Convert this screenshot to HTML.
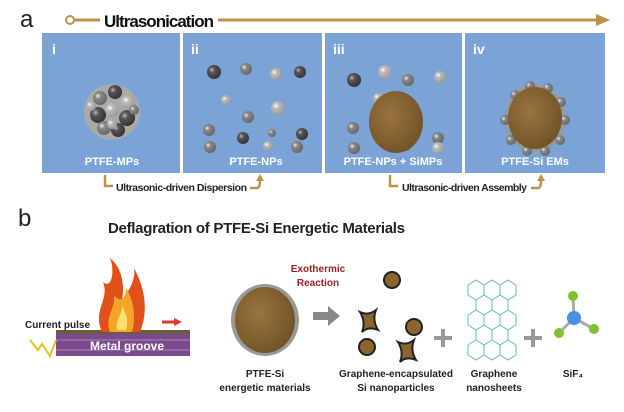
<!DOCTYPE html>
<html><head><meta charset="utf-8"><style>
body{margin:0;width:624px;height:407px;background:#fff;overflow:hidden;font-family:"Liberation Sans",sans-serif}
svg text{font-family:"Liberation Sans",sans-serif}
</style></head><body>
<svg width="624" height="407" viewBox="0 0 624 407">
<defs>
<radialGradient id="dk" cx="35%" cy="35%" r="70%"><stop offset="0" stop-color="#bbb"/><stop offset="0.3" stop-color="#555"/><stop offset="1" stop-color="#333"/></radialGradient>
<radialGradient id="md" cx="35%" cy="35%" r="70%"><stop offset="0" stop-color="#eee"/><stop offset="0.3" stop-color="#888"/><stop offset="1" stop-color="#666"/></radialGradient>
<radialGradient id="lt" cx="35%" cy="35%" r="70%"><stop offset="0" stop-color="#fff"/><stop offset="0.3" stop-color="#bbb"/><stop offset="1" stop-color="#999"/></radialGradient>
<radialGradient id="br" cx="40%" cy="40%" r="70%"><stop offset="0" stop-color="#9a7440"/><stop offset="1" stop-color="#6e5024"/></radialGradient>
</defs>
<text x="20" y="27" font-size="24" fill="#222">a</text>
<line x1="66" y1="20" x2="600" y2="20" stroke="#b8944a" stroke-width="3"/>
<polygon points="596,14 610,20 596,26" fill="#b8944a"/>
<circle cx="70" cy="20" r="4" fill="#fff" stroke="#b8944a" stroke-width="2"/>
<rect x="100" y="10" width="118" height="20" fill="#fff"/>
<text x="104" y="27" font-size="17" font-weight="bold" fill="#111" textLength="110">Ultrasonication</text>
<g fill="#7ba3d6">
<rect x="42" y="33" width="138" height="140"/><rect x="183" y="33" width="139" height="140"/>
<rect x="325" y="33" width="137" height="140"/><rect x="465" y="33" width="140" height="140"/>
</g>
<g fill="#fff" font-weight="bold" font-size="14"><text x="52" y="54">i</text><text x="191" y="54">ii</text><text x="333" y="54">iii</text><text x="473" y="54">iv</text></g>
<g fill="#fff" font-weight="bold" font-size="11" text-anchor="middle">
<text x="112" y="165">PTFE-MPs</text><text x="256" y="165">PTFE-NPs</text><text x="393" y="165">PTFE-NPs + SiMPs</text><text x="535" y="165">PTFE-Si EMs</text></g>
<!-- i cluster -->
<circle cx="112" cy="112" r="28" fill="#aaa"/>
<g><circle cx="100" cy="98" r="7" fill="url(#md)"/><circle cx="115" cy="92" r="7" fill="url(#dk)"/><circle cx="128" cy="102" r="7" fill="url(#lt)"/><circle cx="98" cy="115" r="8" fill="url(#dk)"/><circle cx="112" cy="110" r="7" fill="url(#lt)"/><circle cx="127" cy="118" r="8" fill="url(#dk)"/><circle cx="104" cy="128" r="7" fill="url(#md)"/><circle cx="118" cy="130" r="7" fill="url(#dk)"/><circle cx="91" cy="106" r="5" fill="url(#lt)"/><circle cx="134" cy="110" r="5" fill="url(#md)"/><circle cx="112" cy="124" r="5" fill="url(#lt)"/></g>
<!-- ii -->
<g><circle cx="214" cy="72" r="7" fill="url(#dk)"/><circle cx="246" cy="69" r="6" fill="url(#md)"/><circle cx="276" cy="74" r="6" fill="url(#lt)"/><circle cx="300" cy="72" r="6" fill="url(#dk)"/><circle cx="226" cy="100" r="5" fill="url(#lt)"/><circle cx="248" cy="117" r="6" fill="url(#md)"/><circle cx="278" cy="108" r="7" fill="url(#lt)"/><circle cx="209" cy="130" r="6" fill="url(#md)"/><circle cx="272" cy="143" r="4" fill="url(#md)" transform="translate(0,-10)"/><circle cx="302" cy="134" r="6" fill="url(#dk)"/><circle cx="243" cy="138" r="6" fill="url(#dk)"/><circle cx="210" cy="147" r="6" fill="url(#md)"/><circle cx="268" cy="146" r="5" fill="url(#lt)"/><circle cx="297" cy="147" r="6" fill="url(#md)"/></g>
<!-- iii -->
<g><circle cx="354" cy="80" r="7" fill="url(#dk)"/><circle cx="385" cy="72" r="7" fill="url(#lt)"/><circle cx="408" cy="80" r="6" fill="url(#md)"/><circle cx="440" cy="77" r="6" fill="url(#lt)"/><circle cx="353" cy="128" r="6" fill="url(#md)"/><circle cx="378" cy="98" r="5" fill="url(#lt)"/><circle cx="382" cy="140" r="6" fill="url(#dk)"/><circle cx="354" cy="148" r="6" fill="url(#md)"/><circle cx="406" cy="146" r="5" fill="url(#md)"/><circle cx="438" cy="138" r="6" fill="url(#md)"/><circle cx="438" cy="150" r="6" fill="url(#lt)" transform="translate(0,-2)"/>
<ellipse cx="396" cy="122" rx="27" ry="31" fill="url(#br)"/></g>
<!-- iv -->
<g><ellipse cx="535" cy="118" rx="30" ry="34" fill="#999"/>
<g fill="url(#md)"><circle cx="515" cy="95" r="5"/><circle cx="530" cy="86" r="5"/><circle cx="548" cy="88" r="5"/><circle cx="561" cy="102" r="5"/><circle cx="565" cy="120" r="5"/><circle cx="560" cy="140" r="5"/><circle cx="545" cy="151" r="5"/><circle cx="527" cy="151" r="5"/><circle cx="511" cy="140" r="5"/><circle cx="505" cy="120" r="5"/></g>
<ellipse cx="535" cy="118" rx="27" ry="31" fill="url(#br)"/></g>
<!-- bottom arrows -->
<g fill="none" stroke="#b8944a" stroke-width="2.5">
<path d="M105 175 V186 H113"/><path d="M250 188 H257 Q260 188 260 180"/>
<path d="M390 175 V186 H398"/><path d="M531 188 H538 Q541 188 541 180"/></g>
<polygon points="256,181 260,174 264,181" fill="#b8944a"/><polygon points="537,181 541,174 545,181" fill="#b8944a"/>
<g font-size="10.5" font-weight="bold" fill="#222"><text x="116" y="191" textLength="131">Ultrasonic-driven Dispersion</text><text x="402" y="191" textLength="125">Ultrasonic-driven Assembly</text></g>
<!-- b -->
<text x="18" y="226" font-size="24" fill="#222">b</text>
<text x="108" y="233" font-size="15" font-weight="bold" fill="#222" textLength="297">Deflagration of PTFE-Si Energetic Materials</text>
<!-- metal groove -->
<rect x="56" y="334" width="134" height="22" fill="#7b4a8c"/>
<line x1="56" y1="340" x2="190" y2="340" stroke="#b99ac4" stroke-width="0.8"/><line x1="56" y1="350" x2="190" y2="350" stroke="#b99ac4" stroke-width="0.8"/>
<rect x="56" y="330" width="134" height="4" fill="#6a5a40"/>
<text x="90" y="350" font-size="12" font-weight="bold" fill="#fff">Metal groove</text>
<polyline points="30,340 38,350 42,344 50,356 56,340" fill="none" stroke="#e8c020" stroke-width="2"/>
<text x="25" y="328" font-size="10" font-weight="bold" fill="#222">Current pulse</text>
<!-- flame -->
<path d="M102 332 C92 310 110 300 103 282 C112 290 115 270 110 258 C122 268 125 285 122 300 C130 290 136 278 134 268 C146 290 148 312 140 332 Z" fill="#e0501a"/>
<path d="M110 332 C104 318 116 308 114 295 C122 305 126 296 126 288 C134 300 136 318 132 332 Z" fill="#f5a42a"/>
<path d="M117 330 C115 320 122 315 122 306 C128 316 128 324 126 330 Z" fill="#fbe070"/>
<line x1="162" y1="322" x2="176" y2="322" stroke="#d63a2a" stroke-width="3"/><polygon points="174,318 182,322 174,326" fill="#d63a2a"/>
<!-- PTFE-Si -->
<ellipse cx="265" cy="320" rx="34" ry="36" fill="#999"/>
<ellipse cx="265" cy="320" rx="30" ry="33" fill="url(#br)"/>
<text x="265" y="377" font-size="10" font-weight="bold" fill="#222" text-anchor="middle">PTFE-Si</text>
<text x="265" y="391" font-size="10" font-weight="bold" fill="#222" text-anchor="middle">energetic materials</text>
<text x="318" y="272" font-size="10" font-weight="bold" fill="#a02020" text-anchor="middle">Exothermic</text>
<text x="318" y="286" font-size="10" font-weight="bold" fill="#a02020" text-anchor="middle">Reaction</text>
<polygon points="313,312 328,312 328,306 340,316 328,326 328,320 313,320" fill="#888"/>
<!-- graphene-encapsulated -->
<g stroke="#222" stroke-width="2" fill="#8a6530">
<circle cx="392" cy="280" r="8"/><circle cx="414" cy="327" r="8"/><circle cx="367" cy="347" r="8"/>
<path d="M360 312 Q368 316 376 310 Q372 320 378 330 Q368 326 362 332 Q366 322 360 312Z"/>
<path d="M398 342 Q406 346 414 340 Q410 350 416 360 Q406 356 400 362 Q404 352 398 342Z"/></g>
<text x="396" y="377" font-size="10" font-weight="bold" fill="#222" text-anchor="middle">Graphene-encapsulated</text>
<text x="396" y="391" font-size="10" font-weight="bold" fill="#222" text-anchor="middle">Si nanoparticles</text>
<g stroke="#999" stroke-width="4"><line x1="434" y1="338" x2="452" y2="338"/><line x1="443" y1="329" x2="443" y2="347"/><line x1="524" y1="338" x2="542" y2="338"/><line x1="533" y1="329" x2="533" y2="347"/></g>
<!-- graphene -->
<g fill="none" stroke="#6ab8c2" stroke-width="1">
<path d="M468 285 l8 -5 l8 5 l8 -5 l8 5 l8 -5 l8 5 M468 285 v10 l8 5 l8 -5 l8 5 l8 -5 l8 5 l8 -5 v-10 M476 300 v10 M492 300 v10 M508 300 v10 M468 315 l8 -5 l8 5 l8 -5 l8 5 l8 -5 l8 5 M468 315 v10 l8 5 l8 -5 l8 5 l8 -5 l8 5 l8 -5 v-10 M476 330 v10 M492 330 v10 M508 330 v10 M468 345 l8 -5 l8 5 l8 -5 l8 5 l8 -5 l8 5 M468 345 v10 l8 5 l8 -5 l8 5 l8 -5 l8 5 l8 -5 v-10 M484 285 v10 M500 285 v10 M484 315 v10 M500 315 v10 M484 345 v10 M500 345 v10"/>
</g>
<text x="494" y="377" font-size="10" font-weight="bold" fill="#222" text-anchor="middle">Graphene</text>
<text x="494" y="391" font-size="10" font-weight="bold" fill="#222" text-anchor="middle">nanosheets</text>
<!-- SiF4 -->
<g stroke="#aaa" stroke-width="3"><line x1="574" y1="318" x2="573" y2="296"/><line x1="574" y1="318" x2="559" y2="333"/><line x1="574" y1="318" x2="594" y2="329"/></g>
<circle cx="573" cy="296" r="5" fill="#7ec232"/><circle cx="559" cy="333" r="5" fill="#7ec232"/><circle cx="594" cy="329" r="5" fill="#7ec232"/><circle cx="574" cy="318" r="7" fill="#4b8fe0"/>
<text x="573" y="377" font-size="10" font-weight="bold" fill="#222" text-anchor="middle">SiF₄</text>
</svg>
</body></html>
